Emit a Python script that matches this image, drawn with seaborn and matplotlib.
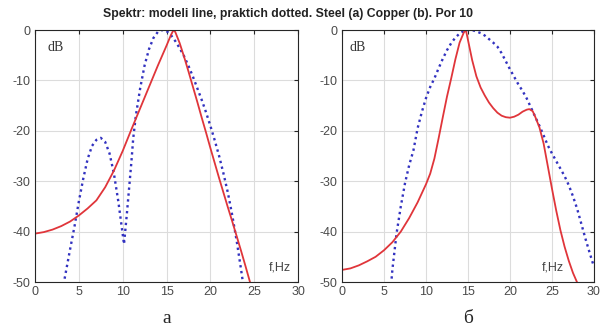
import numpy as np
import matplotlib
matplotlib.use('Agg')
import matplotlib.pyplot as plt
import seaborn as sns

# Panel a (Steel) - model (red line)
steel_model_f = [0, 1, 2, 3, 4, 5, 6, 7, 8, 9, 10, 11, 12, 13, 14, 15, 15.5, 15.8,
                 16, 16.5, 17, 17.5, 18, 18.5, 19, 19.5, 20, 20.5, 21, 21.5, 22, 22.5,
                 23, 23.5, 24, 24.6]
steel_model_db = [-40.4, -40.1, -39.6, -38.9, -38.0, -36.8, -35.4, -33.8, -31.2, -27.9,
                  -24.0, -19.7, -15.5, -11.3, -7.1, -3.1, -1.0, 0.0,
                  -0.4, -2.6, -5.3, -8.2, -11.2, -14.2, -17.3, -20.3, -23.4, -26.4,
                  -29.4, -32.3, -35.2, -38.0, -40.9, -43.8, -46.8, -50.5]

# Panel a (Steel) - practical (blue dotted)
steel_prac_f = [3.25, 4, 4.5, 5, 5.5, 6, 6.5, 7, 7.5, 8, 8.5, 9, 9.5, 10, 10.15, 10.5,
                10.8, 11, 11.2, 11.5, 12, 12.5, 13, 13.5, 14, 14.5, 15, 15.5, 16, 16.5,
                17, 17.5, 18, 18.5, 19, 19.5, 20, 20.5, 21, 21.5, 22, 22.5, 23, 23.5, 23.75]
steel_prac_db = [-50.5, -43.5, -39.0, -34.0, -29.5, -25.6, -23.0, -21.8, -21.4, -22.2,
                 -24.5, -28.5, -34.0, -40.5, -42.5, -36.0, -30.0, -26.0, -21.5, -17.0,
                 -11.5, -7.0, -3.8, -1.6, -0.4, 0.0, -0.2, -1.0, -2.2, -3.6,
                 -5.2, -7.1, -9.2, -11.5, -13.8, -16.3, -19.0, -21.9, -25.0, -28.5,
                 -32.3, -36.8, -41.8, -47.5, -50.5]

# Panel b (Copper) - model (red line)
copper_model_f = [0, 1, 2, 3, 4, 5, 6, 7, 8, 9, 10, 10.5, 11, 11.5, 12, 12.5, 13, 13.5,
                  14, 14.5, 14.75, 15, 15.5, 16, 16.5, 17, 17.5, 18, 18.5, 19, 19.5, 20,
                  20.5, 21, 21.5, 22, 22.3, 22.7, 23, 23.5, 24, 24.5, 25, 25.5, 26, 26.5,
                  27, 27.5, 28.1]
copper_model_db = [-47.6, -47.3, -46.7, -45.9, -45.0, -43.7, -42.1, -40.0, -37.3, -34.2,
                   -30.6, -28.5, -25.5, -21.5, -17.3, -13.2, -9.6, -5.8,
                   -2.5, -0.5, 0.0, -2.0, -6.0, -9.2, -11.4, -13.0, -14.4, -15.5, -16.4,
                   -17.0, -17.3, -17.4, -17.2, -16.8, -16.2, -15.8, -15.7, -16.1, -17.2,
                   -19.3, -22.5, -27.0, -31.5, -35.8, -39.7, -43.0, -45.8, -48.2, -50.5]

# Panel b (Copper) - practical (blue dotted)
copper_prac_f = [5.85, 6, 6.5, 7, 7.5, 8, 8.5, 9, 9.5, 10, 10.5, 11, 11.5, 12, 12.5, 13,
                 13.5, 14, 14.5, 15, 15.5, 16, 16.5, 17, 17.5, 18, 18.5, 19, 19.5, 20,
                 20.5, 21, 21.5, 22, 22.5, 23, 23.5, 24, 24.5, 25, 25.5, 26, 26.5, 27,
                 27.5, 28, 28.5, 29, 29.5, 30]
copper_prac_db = [-50.5, -47.5, -40.3, -35.0, -30.4, -26.8, -23.9, -19.5, -16.3, -13.5,
                  -11.3, -9.6, -7.6, -5.7, -4.0, -2.6, -1.5, -0.7, -0.2, 0.0, 0.0, -0.3,
                  -0.6, -1.1, -1.8, -2.5, -3.3, -4.6, -6.2, -7.8, -9.3, -10.8, -12.1,
                  -13.6, -15.4, -17.2, -19.0, -20.9, -22.9, -24.5, -26.0, -27.5, -29.0,
                  -30.8, -33.0, -35.5, -38.5, -41.5, -44.3, -47.0]

x_ticks = [0, 5, 10, 15, 20, 25, 30]
y_ticks = [-50, -40, -30, -20, -10, 0]

sns.set_style('white')
plt.rcParams['font.family'] = ['Liberation Sans', 'DejaVu Sans']
plt.rcParams['axes.unicode_minus'] = False

fig = plt.figure(figsize=(6.05, 3.32), dpi=100)
ax1 = fig.add_axes([0.0579, 0.1506, 0.4347, 0.759])
ax2 = fig.add_axes([0.5653, 0.1506, 0.4165, 0.759])

red = '#e0353a'
blue = '#3232c0'
panels = [
    (ax1, steel_model_f, steel_model_db, steel_prac_f, steel_prac_db, 26.7, 'a', 0.046),
    (ax2, copper_model_f, copper_model_db, copper_prac_f, copper_prac_db, 23.8, 'б', 0.03),
]
for ax, mf, md, pf, pd_, fx, lab, dbx in panels:
    sns.lineplot(x=pf, y=pd_, ax=ax, color=blue, linestyle=(0, (1, 1.5)), linewidth=1.7,
                 sort=False)
    sns.lineplot(x=mf, y=md, ax=ax, color=red, linewidth=1.3, sort=False)
    ax.set_xlim(0, 30)
    ax.set_ylim(-50, 0)
    ax.set_xticks(x_ticks)
    ax.set_yticks(y_ticks)
    ax.grid(True, color='#dcdcdc', linewidth=0.8)
    ax.tick_params(direction='in', length=3, width=0.8, labelsize=9, colors='#262626',
                   labelcolor='#4a4a4a', top=True, right=True, pad=3)
    for s in ax.spines.values():
        s.set_color('#262626')
        s.set_linewidth(0.8)
        s.set_visible(True)
    ax.text(dbx, 0.93, 'dB', transform=ax.transAxes, family='Liberation Serif',
            fontsize=10, color='#333333', va='center')
    ax.text(fx, -47.2, 'f,Hz', fontsize=9, color='#444444', va='center')
    pos = ax.get_position()
    fig.text(pos.x0 + pos.width / 2, 0.042, lab, family='Liberation Serif', fontsize=14,
             ha='center', va='center')

fig.text(0.476, 0.958, 'Spektr: modeli line, praktich dotted. Steel (a) Copper (b). Por 10',
         fontsize=8.8, fontweight='bold', ha='center', va='center', color='#222222')

fig.savefig('out.png', dpi=100)
